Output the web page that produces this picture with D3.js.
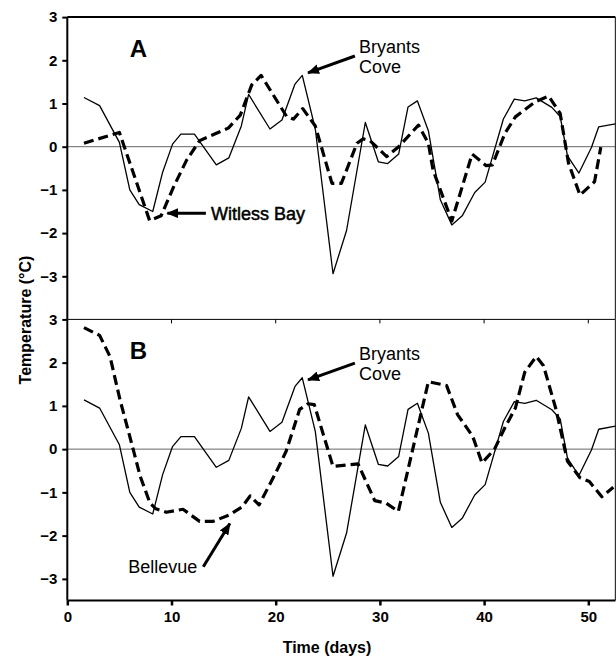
<!DOCTYPE html>
<html>
<head>
<meta charset="utf-8">
<script src="https://cdn.jsdelivr.net/npm/d3@7"></script>
<style>
  html, body { margin: 0; padding: 0; background: #fff; }
  svg { display: block; }
  text { font-family: "Liberation Sans", Arial, Helvetica, sans-serif; fill: #000; }
</style>
</head>
<body>
<svg id="chart" width="616" height="657"></svg>
<script>
// ---- Data (day, temperature °C) ----
const bryantsCove = [
  [1.6,1.14],[3.1,0.95],[5.0,0.1],[6.0,-1.0],[6.9,-1.34],[8.2,-1.5],[9.15,-0.59],[10.1,0.06],
  [10.9,0.29],[12.2,0.29],[14.3,-0.42],[15.5,-0.26],[16.7,0.48],[17.4,1.21],[19.45,0.41],
  [20.6,0.62],[21.85,1.45],[22.55,1.65],[23.8,0.41],[25.5,-2.94],[26.8,-1.94],[28.6,0.56],
  [29.85,-0.35],[30.75,-0.39],[31.8,-0.17],[32.7,0.92],[33.6,1.06],[34.65,0.37],[35.8,-1.23],
  [36.9,-1.81],[37.9,-1.6],[39.1,-1.06],[40.1,-0.82],[41.85,0.64],[42.9,1.1],[43.9,1.06],
  [45.0,1.13],[46.5,0.91],[47.3,0.7],[48.0,-0.21],[49.1,-0.61],[50.3,-0.02],[51.0,0.46],[52.6,0.53]
];
const witlessBay = [
  [1.6,0.08],[5.0,0.33],[7.9,-1.71],[9.0,-1.6],[10.2,-0.93],[11.45,-0.31],[12.7,0.14],
  [15.45,0.43],[16.6,0.73],[17.7,1.43],[18.6,1.65],[21.05,0.7],[21.7,0.64],[22.6,0.88],
  [23.8,0.48],[25.4,-0.85],[26.3,-0.85],[27.8,0.08],[28.4,0.18],[29.05,0.14],[30.65,-0.23],
  [31.8,0.0],[33.7,0.5],[34.65,0.08],[35.1,-0.54],[36.9,-1.72],[38.85,-0.17],[40.2,-0.44],
  [40.8,-0.42],[42.0,0.31],[43.0,0.69],[44.9,1.04],[46.2,1.17],[47.3,0.77],[48.1,-0.38],
  [49.2,-1.12],[50.6,-0.81],[51.2,-0.01]
];
const bellevue = [
  [1.6,2.81],[3.1,2.63],[4.1,2.14],[5.06,1.14],[6.0,0.29],[7.0,-0.63],[7.94,-1.25],[8.5,-1.38],
  [9.5,-1.46],[11.1,-1.39],[12.7,-1.67],[14.0,-1.67],[15.55,-1.52],[16.8,-1.33],[17.55,-1.08],
  [18.4,-1.29],[20.0,-0.55],[21.0,-0.05],[22.3,0.92],[23.1,1.05],[23.7,1.03],[25.5,-0.4],
  [27.9,-0.34],[29.5,-1.19],[30.6,-1.25],[31.77,-1.44],[34.65,1.56],[36.4,1.47],[37.45,0.8],
  [38.9,0.3],[39.8,-0.32],[41.0,0.0],[42.0,0.5],[43.0,0.95],[43.9,1.78],[45.0,2.14],[45.7,1.93],
  [46.9,0.92],[48.0,-0.28],[49.2,-0.66],[50.1,-0.75],[51.3,-1.1],[52.4,-0.88]
];
const xTicks = [0, 10, 20, 30, 40, 50];
const yTicksA = [3, 2, 1, 0, -1, -2, -3];
const yTicksB = [3, 2, 1, 0, -1, -2, -3];
const xTitle = "Time (days)";
const yTitle = "Temperature (°C)";

// ---- Layout ----
const svg = d3.select("#chart");
const left = 67.3, right = 615.4;
const x = d3.scaleLinear().domain([0, 52.6]).range([left, right]);
const yA = d3.scaleLinear().domain([-4, 3]).range([319.5, 17.1]);
const yB = d3.scaleLinear().domain([-3.5, 3]).range([600.5, 319.4]);

const lineGen = (y) => d3.line().x(d => x(d[0])).y(d => y(d[1]));

// arrow marker
svg.append("defs").append("marker")
  .attr("id", "ah").attr("markerUnits", "userSpaceOnUse")
  .attr("viewBox", "0 0 12 10").attr("refX", 11).attr("refY", 5)
  .attr("markerWidth", 12).attr("markerHeight", 10).attr("orient", "auto")
  .append("path").attr("d", "M0,0 L12,5 L0,10 Z").attr("fill", "#000");

function panel(y, ticks, series, label) {
  const g = svg.append("g");
  // zero line
  g.append("line").attr("x1", x(0)).attr("x2", right).attr("y1", y(0)).attr("y2", y(0))
    .attr("stroke", "#555").attr("stroke-width", 0.9);
  // frame: top & right
  const d0 = y.domain();
  g.append("line").attr("x1", x(0)).attr("x2", right).attr("y1", y(d0[1])).attr("y2", y(d0[1]))
    .attr("stroke", "#000").attr("stroke-width", label === "A" ? 2 : 1);
  g.append("line").attr("x1", right).attr("x2", right).attr("y1", y(d0[1])).attr("y2", y(d0[0]))
    .attr("stroke", "#333").attr("stroke-width", 1.2);
  // y axis
  const ax = g.append("g").attr("transform", `translate(${x(0)},0)`)
    .call(d3.axisLeft(y).tickValues(ticks).tickSize(5).tickPadding(5).tickFormat(d3.format("d")));
  ax.select(".domain").attr("stroke-width", 2).attr("d", `M-0,${y(d0[1])}V${y(d0[0])}`);
  ax.selectAll(".tick line").attr("stroke-width", 2);
  ax.selectAll(".tick text").attr("font-size", 15).attr("font-weight", "bold")
    .attr("font-family", "Liberation Sans, Arial, sans-serif").attr("fill", "#000");
  // series
  series.forEach(s => {
    g.append("path").datum(s.data).attr("d", lineGen(y)).attr("fill", "none")
      .attr("stroke", "#000").attr("stroke-width", s.dash ? 3.2 : 1.3)
      .attr("stroke-dasharray", s.dash ? "10,5" : null)
      .attr("stroke-linejoin", "round");
  });
  // panel letter
  g.append("text").attr("x", x(6.0)).attr("y", y(2.08)).attr("font-size", 24)
    .attr("font-weight", "bold").text(label);
  return g;
}

const gA = panel(yA, yTicksA, [
  { data: bryantsCove, dash: false },
  { data: witlessBay, dash: true }
], "A");
const gB = panel(yB, yTicksB, [
  { data: bryantsCove, dash: false },
  { data: bellevue, dash: true }
], "B");

// top ticks of panel B (inward)
svg.append("g").selectAll("line").data(xTicks.filter(t => t > 0)).join("line")
  .attr("x1", d => x(d)).attr("x2", d => x(d)).attr("y1", yB(3)).attr("y2", yB(3) + 4)
  .attr("stroke", "#000").attr("stroke-width", 1);

// bottom x axis
const xa = svg.append("g").attr("transform", `translate(0,${yB(-3.5)})`)
  .call(d3.axisBottom(x).tickValues(xTicks).tickSize(5).tickPadding(6).tickFormat(d3.format("d")));
xa.select(".domain").attr("stroke-width", 2).attr("d", `M${left},0H${right}`);
xa.selectAll(".tick line").attr("stroke-width", 2.5);
xa.selectAll(".tick text").attr("font-size", 15).attr("font-weight", "bold")
  .attr("font-family", "Liberation Sans, Arial, sans-serif").attr("fill", "#000");

// axis titles
svg.append("text").attr("x", 327).attr("y", 653).attr("text-anchor", "middle")
  .attr("font-size", 16).attr("font-weight", "bold").text(xTitle);
svg.append("text").attr("transform", "translate(31,320) rotate(-90)").attr("text-anchor", "middle")
  .attr("font-size", 16).attr("font-weight", "bold").text(yTitle);

// annotations
function arrow(y, x1, y1, x2, y2) {
  svg.append("line").attr("x1", x(x1)).attr("y1", y(y1)).attr("x2", x(x2)).attr("y2", y(y2))
    .attr("stroke", "#000").attr("stroke-width", 3).attr("marker-end", "url(#ah)");
}
function label(y, dx, dy, txt, w) {
  svg.append("text").attr("x", x(dx)).attr("y", y(dy)).attr("font-size", 18)
    .attr("stroke", "#000").attr("stroke-width", w || 0).text(txt);
}
// Panel A
arrow(yA, 27.6, 2.1, 23.1, 1.71);
label(yA, 28.0, 2.18, "Bryants");
label(yA, 28.0, 1.71, "Cove");
arrow(yA, 13.3, -1.54, 9.6, -1.54);
label(yA, 13.8, -1.7, "Witless Bay", 0.5);
// Panel B
arrow(yB, 27.6, 1.99, 23.1, 1.6);
label(yB, 28.0, 2.05, "Bryants");
label(yB, 28.0, 1.59, "Cove");
arrow(yB, 13.05, -2.72, 15.6, -1.72);
label(yB, 5.85, -2.87, "Bellevue");
</script>
</body>
</html>
